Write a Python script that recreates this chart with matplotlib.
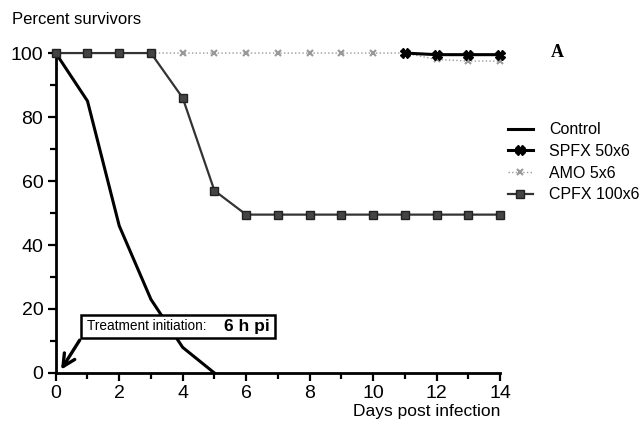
import matplotlib
matplotlib.use("Agg")
import matplotlib.pyplot as plt
from matplotlib.ticker import MultipleLocator
from matplotlib.patches import Rectangle

days = list(range(0, 15))
control_days = [0, 1, 2, 3, 4, 5]
control = [100, 85, 46, 23, 8, 0]
cpfx = [100, 100, 100, 100, 86, 57, 49.5, 49.5, 49.5, 49.5, 49.5, 49.5, 49.5, 49.5, 49.5]
amo = [100, 100, 100, 100, 100, 100, 100, 100, 100, 100, 100, 100, 98, 97.5, 97.5]
spfx_days = [11, 12, 13, 14]
spfx = [100, 99.5, 99.5, 99.5]

plt.rcParams['font.family'] = ['Liberation Sans', 'DejaVu Sans']

fig = plt.figure(figsize=(6.41, 4.30), dpi=100)
ax = fig.add_axes([0.087, 0.1326, 0.693, 0.744])

ax.plot(control_days, control, color='black', lw=2.2, label='Control', clip_on=False, zorder=3)
ax.plot(spfx_days, spfx, color='black', lw=2.2, marker='X', ms=7, label='SPFX 50x6', clip_on=False, zorder=4)
ax.plot(days, amo, color='#999999', lw=1.0, ls=':', marker='x', ms=5, mew=1.5, label='AMO 5x6', clip_on=False, zorder=2)
ax.plot(days, cpfx, color='#333333', lw=1.6, marker='s', ms=5.5, mfc='#444444', mec='#222222', label='CPFX 100x6', clip_on=False, zorder=3)

ax.set_xlim(0, 14)
ax.set_ylim(0, 100)
ax.xaxis.set_major_locator(MultipleLocator(2))
ax.xaxis.set_minor_locator(MultipleLocator(1))
ax.yaxis.set_major_locator(MultipleLocator(20))
ax.yaxis.set_minor_locator(MultipleLocator(10))
for s in ['top', 'right']:
    ax.spines[s].set_visible(False)
for s in ['left', 'bottom']:
    ax.spines[s].set_linewidth(2.0)
ax.tick_params(which='both', direction='out', width=1.6, labelsize=14)
ax.tick_params(which='major', length=6, pad=3)
ax.tick_params(which='minor', length=4)

fig.text(0.019, 0.955, 'Percent survivors', fontsize=12, va='center', ha='left')
fig.text(0.78, 0.042, 'Days post infection', fontsize=12.5, va='center', ha='right')
fig.text(0.87, 0.878, 'A', fontsize=13, fontweight='bold', family='Liberation Serif', va='center', ha='center')

leg = fig.legend(loc='upper left', bbox_to_anchor=(0.792, 0.716), frameon=False,
                 fontsize=11.5, handlelength=1.6, labelspacing=0.42, handletextpad=1.0,
                 borderaxespad=0, borderpad=0)

# annotation box
ax.annotate('', xy=(0.12, 0.3), xytext=(0.8, 11.0),
            arrowprops=dict(arrowstyle='->', color='black', lw=2.4, mutation_scale=22),
            annotation_clip=False, zorder=5)
box = Rectangle((0.8, 11.0), 6.1, 7.2, transform=ax.transData, fill=True,
                facecolor='white', edgecolor='black', lw=1.8, zorder=6, clip_on=False)
ax.add_patch(box)
ax.text(1.0, 14.6, 'Treatment initiation:', fontsize=9.8, va='center', ha='left', zorder=7)
ax.text(6.75, 14.6, '6 h pi', fontsize=12.5, fontweight='bold', va='center', ha='right', zorder=7)

fig.savefig('out.png', dpi=100)
